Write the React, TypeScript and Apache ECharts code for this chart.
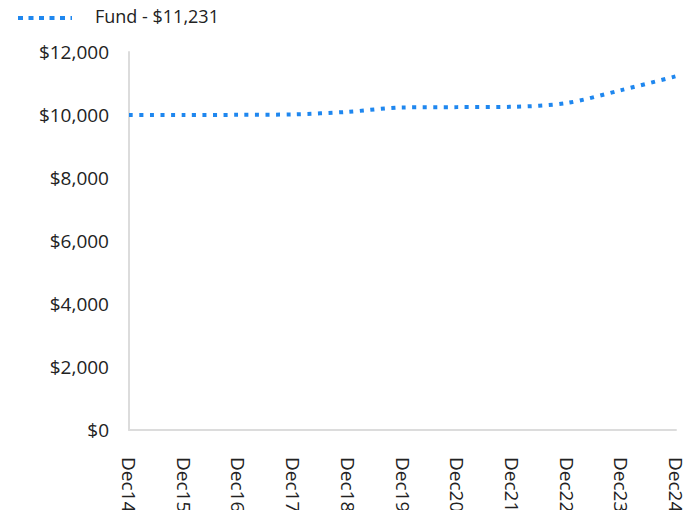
import React, { useEffect, useRef } from "react";
import * as echarts from "echarts";

const categories = ["Dec14", "Dec15", "Dec16", "Dec17", "Dec18", "Dec19", "Dec20", "Dec21", "Dec22", "Dec23", "Dec24"];
const fundValues = [10000, 10000, 10005, 10020, 10100, 10240, 10250, 10260, 10380, 10790, 11231];
const seriesName = "Fund - $11,231";
const yTicks = { min: 0, max: 12000, interval: 2000 };

const FONT = "'Open Sans', 'Noto Sans', sans-serif";
const BLUE = "#1f87ef";
const TEXT = "#222";

export default function App() {
  const ref = useRef<HTMLDivElement>(null);
  useEffect(() => {
    if (!ref.current) return;
    const chart = echarts.init(ref.current, undefined, { renderer: "svg" });
    chart.setOption({
      animation: false,
      textStyle: { fontFamily: FONT },
      graphic: [
        {
          type: "line",
          shape: { x1: 18, y1: 18, x2: 72, y2: 18 },
          style: { stroke: BLUE, lineWidth: 4, lineDash: [5, 5.5] },
        },
        {
          type: "text",
          left: 95,
          top: 7,
          style: { text: seriesName, fill: TEXT, font: `18px ${FONT}` },
        },
      ],
      grid: { left: 129, right: 20, top: 52, bottom: 80, containLabel: false, outerBoundsMode: "none" },
      xAxis: {
        type: "category",
        data: categories,
        boundaryGap: false,
        axisLine: { show: true, lineStyle: { color: "#dcdcdc", width: 2 } },
        axisTick: { show: false },
        axisLabel: { rotate: -90, margin: 27, fontSize: 19, color: TEXT, fontFamily: FONT },
        splitLine: { show: false },
      },
      yAxis: {
        type: "value",
        min: yTicks.min,
        max: yTicks.max,
        interval: yTicks.interval,
        axisLine: { show: true, lineStyle: { color: "#dcdcdc", width: 2 } },
        axisTick: { show: false },
        splitLine: { show: false },
        axisLabel: {
          margin: 20,
          fontSize: 19,
          color: TEXT,
          fontFamily: FONT,
          formatter: (v: number) => "$" + v.toLocaleString("en-US"),
        },
      },
      series: [
        {
          name: seriesName,
          type: "line",
          data: fundValues,
          smooth: 0.3,
          symbol: "none",
          lineStyle: { color: BLUE, width: 4, type: [4, 6.5] },
          itemStyle: { color: BLUE },
        },
      ],
    });
    return () => chart.dispose();
  }, []);
  return <div ref={ref} style={{ width: 696, height: 510, position: "absolute", left: 0, top: 0 }} />;
}
